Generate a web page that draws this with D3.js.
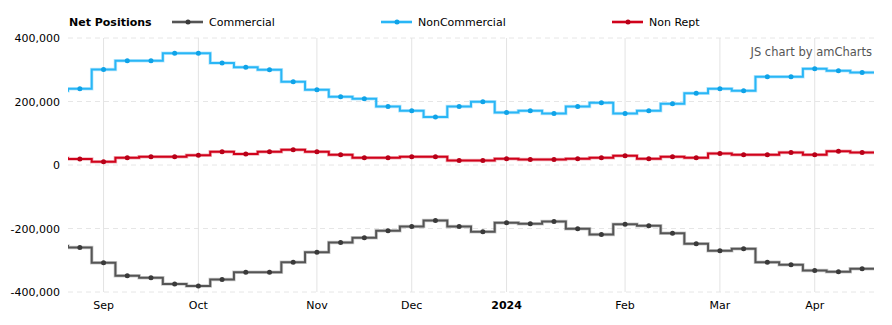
<!DOCTYPE html>
<html>
<head>
<meta charset="utf-8">
<script src="https://cdn.jsdelivr.net/npm/d3@7"></script>
<style>
	body { margin: 0; background: #fff; }
	svg { font-family: 'DejaVu Sans', Verdana, sans-serif; }
</style>
</head>
<body>
<svg class="display"></svg>
<script>
// weekly report dates (first one is only partly visible at the left edge)
const dates = [
	'2023-08-22', '2023-08-29', '2023-09-05', '2023-09-12', '2023-09-19', '2023-09-26',
	'2023-10-03', '2023-10-10', '2023-10-17', '2023-10-24', '2023-10-31',
	'2023-11-07', '2023-11-14', '2023-11-21', '2023-11-28',
	'2023-12-05', '2023-12-12', '2023-12-19', '2023-12-26',
	'2024-01-02', '2024-01-09', '2024-01-16', '2024-01-23', '2024-01-30',
	'2024-02-06', '2024-02-13', '2024-02-20', '2024-02-27',
	'2024-03-05', '2024-03-12', '2024-03-19', '2024-03-26',
	'2024-04-02', '2024-04-09', '2024-04-16'
];
const commercial = [
	-255000, -260000, -308000, -349000, -355000, -375000,
	-381000, -361000, -338000, -338000, -306000,
	-275000, -244000, -229000, -207000,
	-194000, -175000, -194000, -210000,
	-182000, -185000, -178000, -201000, -219000,
	-187000, -191000, -215000, -248000,
	-270000, -264000, -306000, -314000,
	-332000, -336000, -327000
];
const nonCommercial = [
	234000, 240000, 301000, 328000, 328000, 352000,
	352000, 321000, 308000, 300000, 262000,
	237000, 215000, 209000, 184000,
	171000, 151000, 184000, 199000,
	165000, 171000, 162000, 184000, 196000,
	162000, 171000, 193000, 226000,
	240000, 234000, 278000, 278000,
	303000, 297000, 291000
];
const nonRept = [
	21000, 19000, 10000, 23000, 26000, 26000,
	31000, 42000, 35000, 42000, 48000,
	42000, 32000, 23000, 23000,
	26000, 26000, 14000, 14000,
	20000, 17000, 17000, 20000, 23000,
	29000, 20000, 26000, 23000,
	36000, 32000, 32000, 39000,
	32000, 43000, 39000
];
// x axis: first report of each month
const monthTicks = ['2023-09-05', '2023-10-03', '2023-11-07', '2023-12-05', '2024-01-02', '2024-02-06', '2024-03-05', '2024-04-02'];
const monthLabels = ['Sep', 'Oct', 'Nov', 'Dec', '2024', 'Feb', 'Mar', 'Apr'];
const yTicks = [-400000, -200000, 0, 200000, 400000];

const series = [
	{ name: 'Commercial', values: commercial, color: '#555555', dot: '#3a3a3a', legendX: 172 },
	{ name: 'NonCommercial', values: nonCommercial, color: '#29b6f6', dot: '#0fa3e8', legendX: 381 },
	{ name: 'Non Rept', values: nonRept, color: '#d0021b', dot: '#b80018', legendX: 612 }
];

//define area of graph
const totalWidth = 892,
	totalHeight = 325,
	margin = { top: 38, right: 18, bottom: 33, left: 68 },
	plotLeft = margin.left,
	plotRight = totalWidth - margin.right, //874
	plotTop = margin.top,
	plotBottom = totalHeight - margin.bottom; //292

const cellWidth = (plotRight - plotLeft) / (dates.length - 1);

// band scale: the first (clipped) week sits left of the plot area
const xScale = d3.scaleBand().domain(dates).range([plotLeft - cellWidth, plotRight]).padding(0);
const yScale = d3.scaleLinear().domain([-400000, 400000]).range([plotBottom, plotTop]);

const svg = d3.select('.display').attr('width', totalWidth).attr('height', totalHeight);

svg.append('defs').append('clipPath').attr('id', 'plot')
	.append('rect').attr('x', plotLeft).attr('y', plotTop - 10).attr('width', plotRight - plotLeft).attr('height', plotBottom - plotTop + 20);

//horizontal dashed grid
svg.append('g').selectAll('line').data(yTicks).enter().append('line')
	.attr('x1', plotLeft).attr('x2', plotRight)
	.attr('y1', (d) => yScale(d)).attr('y2', (d) => yScale(d))
	.attr('stroke', '#e6e6e6').attr('stroke-width', 1).attr('stroke-dasharray', '5,4');

//vertical month grid
svg.append('g').selectAll('line').data(monthTicks).enter().append('line')
	.attr('x1', (d) => xScale(d) + xScale.bandwidth() / 2).attr('x2', (d) => xScale(d) + xScale.bandwidth() / 2)
	.attr('y1', plotTop).attr('y2', plotBottom)
	.attr('stroke', '#e3e3e3').attr('stroke-width', 1);

//y axis
const fmt = d3.formatLocale({ decimal: '.', thousands: ',', grouping: [3], currency: ['$', ''], minus: '-' }).format(',');
const yAxis = d3.axisLeft(yScale).tickValues(yTicks).tickFormat(fmt).tickSize(0).tickPadding(8);
const yG = svg.append('g').attr('transform', 'translate(' + plotLeft + ',0)').call(yAxis);
yG.select('.domain').remove();
yG.selectAll('text').style('font-size', '11px').attr('fill', '#000').style('font-family', 'DejaVu Sans, Verdana, sans-serif');

//x axis
const xAxis = d3.axisBottom(xScale).tickValues(monthTicks).tickFormat((d, i) => monthLabels[i]).tickSize(0).tickPadding(9);
const xG = svg.append('g').attr('transform', 'translate(0,' + plotBottom + ')').call(xAxis);
xG.select('.domain').remove();
xG.selectAll('text').style('font-size', '11px').attr('fill', '#000').style('font-family', 'DejaVu Sans, Verdana, sans-serif')
	.style('font-weight', (d, i) => (monthLabels[i] === '2024' ? 'bold' : 'normal'));

//step lines
const line = d3.line().curve(d3.curveStepAfter).x((d) => d[0]).y((d) => d[1]);
const plot = svg.append('g').attr('clip-path', 'url(#plot)');

series.forEach((s) => {
	const pts = dates.map((d, i) => [xScale(d), yScale(s.values[i])]);
	pts.push([xScale(dates[dates.length - 1]) + xScale.bandwidth(), yScale(s.values[s.values.length - 1])]);
	plot.append('path').attr('d', line(pts)).attr('fill', 'none')
		.attr('stroke', s.color).attr('stroke-opacity', 0.3).attr('stroke-width', 3.5);
	plot.append('path').attr('d', line(pts)).attr('fill', 'none')
		.attr('stroke', s.color).attr('stroke-width', 2);
	plot.append('g').selectAll('circle').data(dates).enter().append('circle')
		.attr('cx', (d) => xScale(d) + xScale.bandwidth() / 2)
		.attr('cy', (d, i) => yScale(s.values[i]))
		.attr('r', 2.5)
		.attr('fill', s.dot);
});

//legend
svg.append('text').attr('x', 69).attr('y', 26).style('font-size', '11px').style('font-weight', 'bold')
	.attr('fill', '#000').text('Net Positions');

series.forEach((s) => {
	const g = svg.append('g').attr('transform', 'translate(' + s.legendX + ',22)');
	g.append('line').attr('x1', 0).attr('x2', 31).attr('stroke', s.color).attr('stroke-opacity', 0.3).attr('stroke-width', 4);
	g.append('line').attr('x1', 0).attr('x2', 31).attr('stroke', s.color).attr('stroke-width', 2);
	g.append('circle').attr('cx', 16).attr('r', 2.5).attr('fill', s.dot);
	g.append('text').attr('x', 37).attr('y', 4).style('font-size', '11px').attr('fill', '#000').text(s.name);
});

//credit
svg.append('text').attr('x', 872).attr('y', 56).attr('text-anchor', 'end')
	.style('font-size', '11.5px').attr('fill', '#555').text('JS chart by amCharts');
</script>
</body>
</html>
